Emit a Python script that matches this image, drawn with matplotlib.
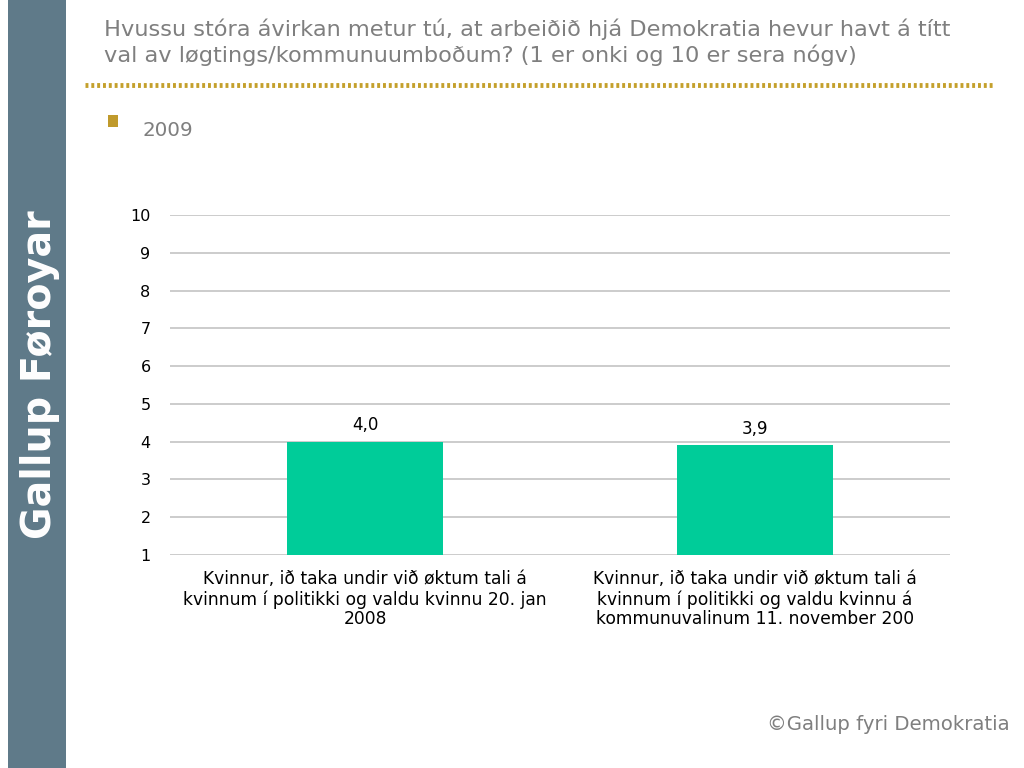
import matplotlib
matplotlib.use("Agg")
import matplotlib.pyplot as plt
from matplotlib.patches import Rectangle
from matplotlib.lines import Line2D

categories = [
    "Kvinnur, ið taka undir við øktum tali á\nkvinnum í politikki og valdu kvinnu 20. jan\n2008",
    "Kvinnur, ið taka undir við øktum tali á\nkvinnum í politikki og valdu kvinnu á\nkommunuvalinum 11. november 200",
]
values = [4.0, 3.9]
value_labels = ["4,0", "3,9"]
yticks = [1, 2, 3, 4, 5, 6, 7, 8, 9, 10]
series_name = "2009"
title = "Hvussu stóra ávirkan metur tú, at arbeiðið hjá Demokratia hevur havt á títt\nval av løgtings/kommunuumboðum? (1 er onki og 10 er sera nógv)"

W, H = 1024, 768
fig = plt.figure(figsize=(W / 100, H / 100), dpi=100)
fig.patch.set_facecolor("white")

# sidebar
fig.patches.append(Rectangle((8 / W, 0), 58 / W, 1, transform=fig.transFigure,
                             facecolor="#5f7a89", edgecolor="none", zorder=0))
fig.text(40 / W, 1 - 375 / H, "Gallup Føroyar", rotation=90, color="white",
         fontsize=28.5, fontweight="bold", ha="center", va="center")

# title
fig.text(104 / W, 1 - 19 / H, title, color="#7f7f7f", fontsize=16.2,
         ha="left", va="top", linespacing=1.25)

# dotted rule
fig.add_artist(Line2D([85 / W, 995 / W], [1 - 85 / H, 1 - 85 / H], transform=fig.transFigure,
                      color="#c4a02c", linewidth=3.5, linestyle=(0, (0.6, 0.6))))

# bullet and series name
fig.patches.append(Rectangle((108 / W, 1 - 127 / H), 10 / W, 12 / H, transform=fig.transFigure,
                             facecolor="#c09a2c", edgecolor="none"))
fig.text(143 / W, 1 - 130 / H, series_name, color="#7f7f7f", fontsize=14.3, ha="left", va="center")

# copyright
fig.text(1010 / W, 1 - 725 / H, "©Gallup fyri Demokratia", color="#7f7f7f", fontsize=14.2,
         ha="right", va="center")

ax = fig.add_axes([170 / W, 1 - 555 / H, 780 / W, 340 / H])
x = list(range(len(categories)))
ax.bar(x, [v - 1 for v in values], bottom=1, width=0.4, color="#00cc99", zorder=3)
for xi, v, lab in zip(x, values, value_labels):
    ax.text(xi, v + 0.2, lab, ha="center", va="bottom", fontsize=12, color="black")
ax.set_xlim(-0.5, len(categories) - 0.5)
ax.set_ylim(1, 10)
ax.set_yticks(yticks)
ax.set_yticklabels([str(t) for t in yticks], fontsize=11.5)
ax.set_xticks(x)
ax.set_xticklabels(categories, fontsize=12.3, linespacing=1.12)
ax.tick_params(axis="y", length=0, pad=14)
ax.tick_params(axis="x", length=0, pad=11)
ax.grid(axis="y", color="#bfbfbf", linewidth=1.1, zorder=0)
ax.set_axisbelow(True)
for s in ax.spines.values():
    s.set_visible(False)

fig.savefig("out.png", dpi=100)
